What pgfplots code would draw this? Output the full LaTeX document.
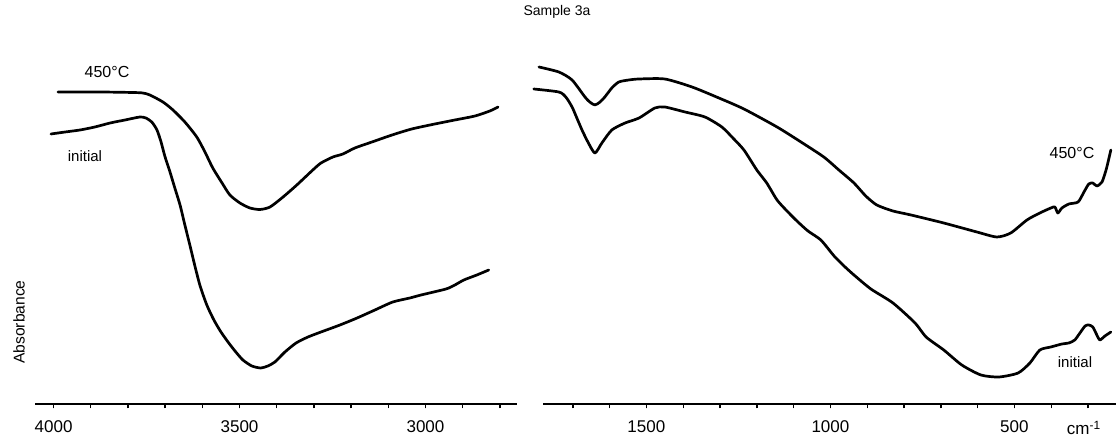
\documentclass[border=0pt]{standalone}
\usepackage{pgfplots}
\pgfplotsset{compat=1.18}
\usepackage{fontspec}
\setmainfont{Liberation Sans}

% IR spectra of sample 3a: initial state and after heating to 450 C
% wavenumber / cm^-1 versus absorbance (arbitrary units, curves offset)

\pgfplotsset{
  irpanel/.style={
    scale only axis,
    anchor=south west,
    height=182pt,
    ymin=0, ymax=3.64,
    x dir=reverse,
    axis x line=bottom,
    axis y line=none,
    axis line style={-, line width=0.9pt},
    tick align=outside,
    major tick length=2.2pt,
    minor tick length=2.2pt,
    every tick/.style={black, line width=0.7pt},
    scaled x ticks=false,
    /pgf/number format/assume math mode=true,
    /pgf/number format/1000 sep={},
    xticklabel style={font=\fontsize{8.5}{9}\selectfont, yshift=-2.5pt},
    clip=false,
  },
  spec/.style={black, line width=1.35pt, smooth, tension=0.4, line join=round, line cap=round},
}

\begin{document}
\begin{tikzpicture}[x=1pt,y=1pt]
\useasboundingbox (0,0) rectangle (558,219);

% O-H stretching region
\begin{axis}[irpanel, at={(17.5pt,17pt)}, width=241pt,
  xmin=2754, xmax=4050,
  xtick={3000,3500,4000},
  minor xtick={2800,2900,...,4000}]
\addplot[spec] table {
3988 3.12
3875 3.12
3787 3.115
3760 3.11
3741 3.09
3706 3.02
3679 2.94
3647 2.82
3615 2.67
3593 2.52
3572 2.36
3547 2.21
3526 2.09
3499 2.01
3472 1.96
3445 1.945
3418 1.97
3383 2.07
3346 2.19
3303 2.34
3281 2.41
3249 2.47
3222 2.50
3190 2.56
3144 2.62
3090 2.69
3037 2.75
2975 2.80
2921 2.84
2867 2.88
2827 2.93
2805 2.97
};
\addplot[spec] table {
4007 2.70
3969 2.72
3929 2.74
3889 2.77
3848 2.81
3808 2.84
3768 2.87
3752 2.86
3736 2.82
3722 2.74
3711 2.62
3701 2.48
3687 2.32
3674 2.16
3660 1.99
3647 1.79
3633 1.58
3620 1.38
3606 1.18
3588 0.99
3569 0.84
3550 0.72
3529 0.61
3510 0.52
3491 0.44
3467 0.38
3443 0.36
3424 0.38
3405 0.42
3378 0.52
3348 0.61
3316 0.67
3281 0.72
3230 0.79
3184 0.86
3136 0.94
3088 1.02
3042 1.06
3012 1.09
2945 1.15
2921 1.19
2897 1.24
2862 1.29
2830 1.34
};
\end{axis}

% fingerprint region
\begin{axis}[irpanel, at={(271.5pt,17pt)}, width=286.5pt,
  xmin=224, xmax=1781,
  xtick={500,1000,1500},
  minor xtick={300,400,...,1700}]
\addplot[spec] table {
1792 3.37
1738 3.32
1702 3.24
1667 3.07
1654 3.02
1640 2.99
1626 3.02
1613 3.07
1594 3.16
1575 3.22
1548 3.24
1520 3.25
1450 3.25
1376 3.17
1303 3.06
1235 2.95
1145 2.77
1080 2.62
1018 2.47
977 2.34
936 2.21
904 2.08
874 1.99
830 1.93
781 1.89
692 1.81
602 1.72
548 1.67
510 1.71
466 1.84
431 1.91
401 1.96
390 1.97
382 1.91
371 1.96
352 2.00
327 2.02
311 2.12
298 2.20
287 2.21
276 2.18
262 2.22
251 2.34
243 2.46
238 2.54
};
\addplot[spec] table {
1806 3.15
1738 3.12
1719 3.07
1702 2.97
1689 2.86
1675 2.74
1659 2.62
1640 2.51
1621 2.61
1594 2.74
1558 2.81
1520 2.86
1477 2.96
1450 2.97
1395 2.92
1341 2.87
1295 2.77
1265 2.66
1235 2.54
1200 2.34
1173 2.21
1145 2.04
1118 1.93
1091 1.83
1061 1.73
1026 1.64
990 1.48
963 1.38
936 1.29
890 1.15
830 1.01
770 0.81
740 0.67
692 0.54
643 0.39
591 0.29
542 0.27
490 0.31
458 0.41
431 0.54
401 0.57
371 0.60
352 0.61
336 0.64
322 0.71
308 0.78
298 0.79
287 0.77
276 0.69
268 0.64
254 0.68
238 0.72
};
\end{axis}

% labels
\node[font=\fontsize{7}{8}\selectfont] at (278.5,213) {Sample 3a};
\node[font=\fontsize{7.8}{9}\selectfont, rotate=90] at (9.5,58) {Absorbance};
\node[font=\fontsize{8}{9}\selectfont] at (53.5,183) {450°C};
\node[font=\fontsize{7.5}{9}\selectfont] at (42.5,141) {initial};
\node[font=\fontsize{8}{9}\selectfont] at (536,142.5) {450°C};
\node[font=\fontsize{7.5}{9}\selectfont] at (537.5,38) {initial};
\node[font=\fontsize{8.5}{9}\selectfont] at (542,5) {cm\textsuperscript{-1}};
\end{tikzpicture}
\end{document}
